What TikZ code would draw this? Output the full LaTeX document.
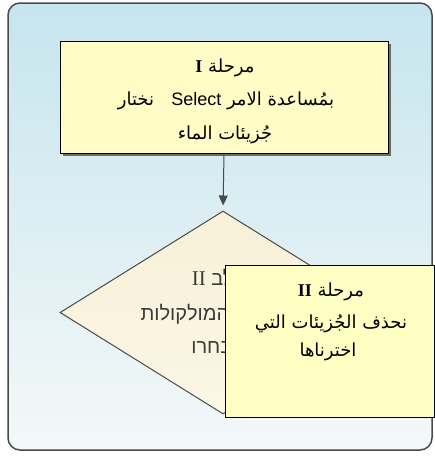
\documentclass[tikz,border=0pt]{standalone}
\usepackage{fontspec}
\usetikzlibrary{shapes.geometric,arrows.meta}
\TeXXeTstate=1
\newfontfamily\arabicfont[Script=Arabic]{DejaVu Sans}
\newfontfamily\hebfont[Script=Hebrew]{Liberation Sans}
\newfontfamily\latsans{Liberation Sans}
\newfontfamily\latserif{Liberation Serif}
\definecolor{frameline}{HTML}{4A4A4A}
\definecolor{bgtop}{HTML}{C6E5EE}
\definecolor{bgbot}{HTML}{F4F8F8}
\definecolor{boxfill}{HTML}{FFFCC6}
\definecolor{boxfilltwo}{HTML}{FFFFC4}
\definecolor{shadowc}{HTML}{6E6E5E}
\definecolor{diatop}{HTML}{F8F0D8}
\definecolor{diabot}{HTML}{FBF7E6}
\definecolor{hebtext}{HTML}{3A3A3A}
\tikzset{
  stagebox/.style={draw=black, line width=0.9pt, inner sep=0pt},
  artext/.style={font=\arabicfont\fontsize{18}{20}\selectfont, text=black, inner sep=0pt},
  hetext/.style={font=\hebfont\fontsize{20}{22}\selectfont, text=hebtext, inner sep=0pt},
  flowarrow/.style={draw=frameline, line width=1pt, -{Triangle[width=9pt,length=10pt]}}
}
\begin{document}
\begin{tikzpicture}[x=1pt,y=-1pt]
\useasboundingbox (0,0) rectangle (435,456);
% frame
\draw[rounded corners=12pt, line width=1.5pt, draw=frameline, top color=bgtop, bottom color=bgbot] (8,3) rectangle (432,450);
% diamond
\node[diamond, draw=frameline, line width=1pt, top color=diatop, bottom color=diabot, minimum width=326pt, minimum height=203pt, inner sep=0pt] (dia) at (223,312.5) {};
\node[hetext] (h1) at (220,278) {\beginR שלב \beginL{\latserif\fontsize{21}{22}\selectfont II}\endL\endR};
\node[hetext] (h2) at (223,314) {\beginR מחק את המולקולות\endR};
\node[hetext] (h3) at (223,348) {\beginR שנבחרו\endR};
% box I
\fill[shadowc] (63,44) rectangle (391,156);
\node[stagebox, fill=boxfill, minimum width=328pt, minimum height=112pt] (b1) at (224,97) {};
\node[artext] (t1) at (225,68) {\beginR مرحلة \beginL{\latserif\bfseries I}\endL\endR};
\node[artext] (t2) at (226,101) {\beginR بمُساعدة الامر \beginL{\latsans Select}\endL\ \ \ نختار\endR};
\node[artext] (t3) at (225,135) {\beginR جُزيئات الماء\endR};
% arrow
\draw[flowarrow, shorten >=5pt] (b1.south) -- (dia.north);
% box II
\node[stagebox, fill=boxfilltwo, minimum width=209pt, minimum height=152pt] (b2) at (329.5,341) {};
\node[artext] (s1) at (331,292) {\beginR مرحلة \beginL{\latserif\bfseries II}\endL\endR};
\node[artext] (s2) at (331,324) {\beginR نحذف الجُزيئات التي\endR};
\node[artext] (s3) at (328,352) {\beginR اخترناها\endR};
\end{tikzpicture}
\end{document}
